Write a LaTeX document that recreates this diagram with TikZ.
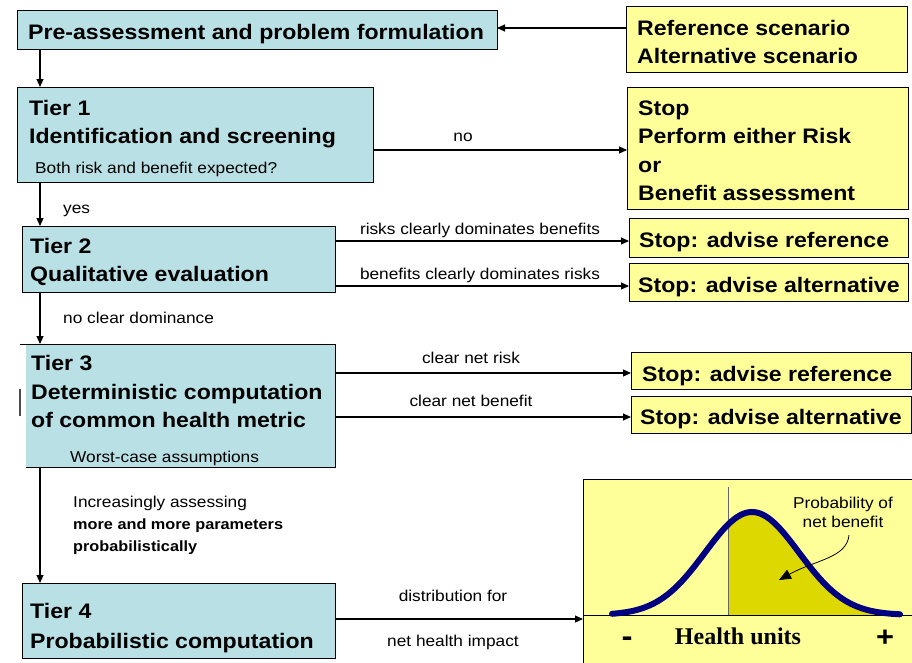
\documentclass[tikz,border=0pt]{standalone}
\usepackage{fontspec}
\setmainfont{Liberation Sans}[FakeStretch=1.1]
\newfontfamily\serifbold{Liberation Serif}[BoldFont={* Bold}]
\usetikzlibrary{arrows.meta}
\definecolor{tierblue}{RGB}{185,224,228}
\definecolor{lightyel}{RGB}{255,255,153}
\definecolor{darkyel}{RGB}{221,217,0}
\definecolor{curveblue}{RGB}{0,0,128}
\begin{document}
\begin{tikzpicture}[x=1pt,y=-1pt,
  box/.style={draw=black,line width=0.9pt,anchor=north west,inner sep=0pt,outer sep=0pt},
  bluebox/.style={box,fill=tierblue},
  yelbox/.style={box,fill=lightyel},
  big/.style={anchor=base west,inner sep=0pt,font=\fontsize{21}{25}\selectfont\bfseries},
  small/.style={anchor=base west,inner sep=0pt,font=\fontsize{15.7}{18}\selectfont},
  smallb/.style={anchor=base west,inner sep=0pt,font=\fontsize{14.8}{18}\selectfont\bfseries},
  lbl/.style={anchor=base,inner sep=0pt,font=\fontsize{15.7}{18}\selectfont},
  arr/.style={-{Triangle[length=8pt,width=7pt]},line width=1.1pt}]
\useasboundingbox (0,0) rectangle (912,662);
% helper coordinates
\coordinate (cx) at (40,0);
\coordinate (y28) at (0,28);
\coordinate (y150) at (0,150);
\coordinate (y241) at (0,241);
\coordinate (y286) at (0,286);
\coordinate (y373) at (0,373);
\coordinate (y417) at (0,417);
\coordinate (y619) at (0,619);

% boxes
\node[bluebox,minimum width=480pt,minimum height=39pt] (pre) at (17,10) {};
\node[yelbox,minimum width=281pt,minimum height=66pt] (ref) at (626,6) {};
\node[bluebox,minimum width=356pt,minimum height=95pt] (t1) at (17,87) {};
\node[yelbox,minimum width=281pt,minimum height=122pt] (stop1) at (627,87) {};
\node[bluebox,minimum width=313pt,minimum height=66pt] (t2) at (22,226) {};
\node[yelbox,minimum width=279pt,minimum height=39pt] (sr1) at (629,218) {};
\node[yelbox,minimum width=279pt,minimum height=38pt] (sa1) at (629,263) {};
\node[fill=tierblue,anchor=north west,inner sep=0pt,outer sep=0pt,minimum width=309pt,minimum height=123pt] (t3) at (26,344) {};
\draw[line width=0.9pt] (20,344) -- (t3.north east) -- (t3.south east) -- (t3.south west);
\draw[black!70,line width=1.5pt] (20,389) -- (20,416);
\node[yelbox,minimum width=280pt,minimum height=37pt] (sr2) at (631,352) {};
\node[yelbox,minimum width=280pt,minimum height=37pt] (sa2) at (631,396) {};
\node[bluebox,minimum width=313pt,minimum height=75pt] (t4) at (22,583) {};
\node[fill=lightyel,anchor=north west,inner sep=0pt,outer sep=0pt,minimum width=340pt,minimum height=190pt] (g) at (583,479) {};
\draw[line width=0.9pt] (g.south west) -- (g.north west) -- (g.north east);

% texts in boxes
\node[big] (tpre) at (28,39) {Pre-assessment and problem formulation};
\node[big] (tref1) at (637,35) {Reference scenario};
\node[big] (tref2) at (637,63) {Alternative scenario};
\node[big] (tt1a) at (29,115) {Tier 1};
\node[big] (tt1b) at (29,143) {Identification and screening};
\node[small] (tt1c) at (35,173) {Both risk and benefit expected?};
\node[big] (ts1) at (638,115) {Stop};
\node[big] (ts2) at (638,143) {Perform either Risk};
\node[big] (ts3) at (638,172) {or};
\node[big] (ts4) at (638,200) {Benefit assessment};
\node[big] (tt2a) at (30,253) {Tier 2};
\node[big] (tt2b) at (30,281) {Qualitative evaluation};
\node[big] (tsr1) at (639,247) {Stop: advise reference};
\node[big] (tsa1) at (638,292) {Stop: advise alternative};
\node[big] (tt3a) at (31,370) {Tier 3};
\node[big] (tt3b) at (31,399) {Deterministic computation};
\node[big] (tt3c) at (31,427) {of common health metric};
\node[small] (tt3d) at (70,462) {Worst-case assumptions};
\node[big] (tsr2) at (642,381) {Stop: advise reference};
\node[big] (tsa2) at (640,424) {Stop: advise alternative};
\node[big] (tt4a) at (30,618) {Tier 4};
\node[big] (tt4b) at (30,648) {Probabilistic computation};

% connector labels
\node[small] (lyes) at (63,213) {yes};
\node[small] (lncd) at (63,323) {no clear dominance};
\node[small] (linc1) at (73,507) {Increasingly assessing};
\node[smallb] (linc2) at (73,529) {more and more parameters};
\node[smallb] (linc3) at (73,551) {probabilistically};
\node[lbl] (lno) at (463,141) {no};
\node[lbl] (lr1) at (480,234) {risks clearly dominates benefits};
\node[lbl] (lb1) at (480,279) {benefits clearly dominates risks};
\node[lbl] (lr2) at (471,363) {clear net risk};
\node[lbl] (lb2) at (471,406) {clear net benefit};
\node[lbl] (ld1) at (453,601) {distribution for};
\node[lbl] (ld2) at (453,646) {net health impact};

% connectors
\draw[arr] (ref.west |- y28) -- (pre.east |- y28);
\draw[arr] (pre.south -| cx) -- (t1.north -| cx);
\draw[arr] (t1.east |- y150) -- (stop1.west |- y150);
\draw[arr] (t1.south -| cx) -- (t2.north -| cx);
\draw[arr] (t2.east |- y241) -- (sr1.west |- y241);
\draw[arr] (t2.east |- y286) -- (sa1.west |- y286);
\draw[arr] (t2.south -| cx) -- (t3.north -| cx);
\draw[arr] (t3.east |- y373) -- (sr2.west |- y373);
\draw[arr] (t3.east |- y417) -- (sa2.west |- y417);
\draw[arr] (t3.south -| cx) -- (t4.north -| cx);
\draw[arr] (t4.east |- y619) -- (g.west |- y619);

% graph contents
\fill[darkyel] (728,615) -- plot[domain=728:900,samples=60] (\x,{615-103*exp(-((\x-752)/47)^2/2)}) -- (900,615) -- cycle;
\draw[black!60,line width=0.8pt] (728,487) -- (728,615);
\draw[line width=0.8pt] (g.west |- 0,615) -- (g.east |- 0,615);
\draw[curveblue,line width=6pt,line cap=round] plot[domain=612:900,samples=100] (\x,{615-103*exp(-((\x-752)/47)^2/2)});
\node[lbl] (pb1) at (843,508) {Probability of};
\node[lbl] (pb2) at (843,527) {net benefit};
\coordinate (pbtip) at (779,580);
\draw[-{Triangle[length=12pt,width=10pt]},line width=0.8pt] (849,535) .. controls (847,558) and (815,560) .. (pbtip);
\node[anchor=base,inner sep=0pt,font=\serifbold\fontsize{24}{28}\selectfont\bfseries] (hu) at (738,644) {Health units};
\node[anchor=base,inner sep=0pt,font=\fontsize{30}{32}\selectfont\bfseries] (minus) at (627,646) {-};
\node[anchor=base,inner sep=0pt,font=\fontsize{28}{32}\selectfont\bfseries] (plus) at (885,646) {+};
\end{tikzpicture}
\end{document}
